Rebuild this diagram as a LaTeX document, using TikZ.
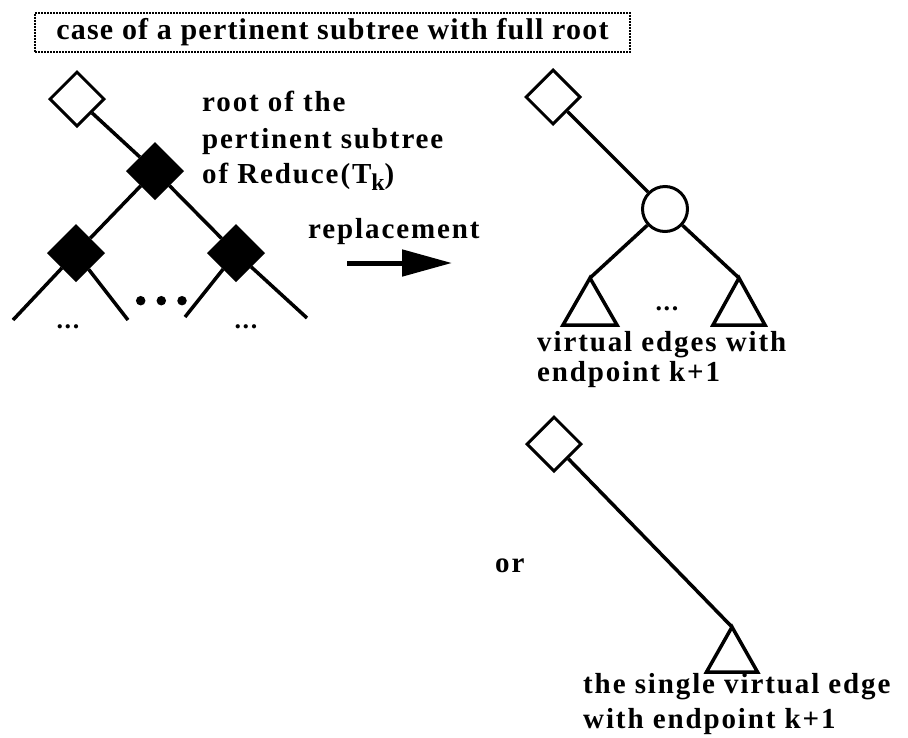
\documentclass[tikz,border=0pt]{standalone}
\usepackage{fontspec}
\setmainfont{Liberation Serif}
\newfontfamily\lblfont{Liberation Serif}[LetterSpace=6.5]
\newfontfamily\ttlfont{Liberation Serif}[LetterSpace=4]
\usetikzlibrary{shapes.geometric,arrows.meta}
\begin{document}
\begin{tikzpicture}[x=1pt,y=-1pt,
  lab/.style={font=\lblfont\bfseries\fontsize{29}{32}\selectfont, inner sep=0pt, anchor=base west},
  dotlab/.style={font=\lblfont\bfseries\fontsize{26}{30}\selectfont, inner sep=0pt, anchor=base},
  opendia/.style={diamond, aspect=1, draw=black, fill=white, line width=3pt, minimum width=55pt, minimum height=55pt, inner sep=0pt},
  fulldia/.style={diamond, aspect=1, draw=black, fill=black, line width=3pt, minimum width=55pt, minimum height=55pt, inner sep=0pt},
  pnode/.style={circle, draw=black, fill=white, line width=3pt, minimum size=45pt, inner sep=0pt},
  treeedge/.style={line width=3.5pt, black},
  leaf/.style={line width=3.5pt, black, line join=miter},
  bigdot/.style={circle, fill=black, minimum size=9.5pt, inner sep=0pt}]
\useasboundingbox (0,0) rectangle (908,737);
\fill[white] (0,0) rectangle (908,737);

% title
\node[draw=black, densely dotted, line width=2pt, minimum width=595pt, minimum height=39pt, inner sep=0pt,
      font=\ttlfont\bfseries\fontsize{30}{32}\selectfont] (title) at (332.5,32.2)
      {case of a pertinent subtree with full root};

% left tree
\node[opendia] (L0) at (77,99) {};
\node[fulldia] (LA) at (155,171) {};
\node[fulldia] (LB) at (76,253) {};
\node[fulldia] (LC) at (236,253) {};
\coordinate (LB1) at (13,320);
\coordinate (LB2) at (128,320);
\coordinate (LC1) at (185,317);
\coordinate (LC2) at (307,318);
\draw[treeedge] (L0) -- (LA);
\draw[treeedge] (LA) -- (LB);
\draw[treeedge] (LA) -- (LC);
\draw[treeedge] (LB) -- (LB1);
\draw[treeedge] (LB) -- (LB2);
\draw[treeedge] (LC) -- (LC1);
\draw[treeedge] (LC) -- (LC2);
\node[bigdot] (dot1) at (140.7,300.7) {};
\node[bigdot] (dot2) at (161.3,300.7) {};
\node[bigdot] (dot3) at (182,300.7) {};
\node[dotlab] (ldots1) at (68,328) {...};
\node[dotlab] (ldots2) at (246,328) {...};

\node[lab] (r1) at (202,111) {root of the};
\node[lab] (r2) at (202,148) {pertinent subtree};
\node[lab] (r3) at (202,183) {of Reduce(T\raisebox{-7pt}{\fontsize{24}{24}\selectfont k})};

% replacement arrow
\node[lab] (repl) at (308,238) {replacement};
\coordinate (as) at (347,263);
\coordinate (ae) at (452,263);
\draw[line width=5pt, -{Triangle[length=50pt, width=26pt]}] (as) -- (ae);

% right tree (upper)
\node[opendia] (R0) at (553,97) {};
\node[pnode] (P) at (665,209) {};
\coordinate (T1) at (590,278);
\coordinate (T2) at (739,278);
\draw[treeedge] (R0) -- (P);
\draw[treeedge] (P) -- (T1);
\draw[treeedge] (P) -- (T2);
\draw[leaf] (T1) -- ++(-27,47) -- ++(54,0) -- cycle;
\draw[leaf] (T2) -- ++(-26,47) -- ++(52,0) -- cycle;
\node[dotlab] (rdots) at (667,310) {...};
\node[lab] (v1) at (537,351) {virtual edges with};
\node[lab] (v2) at (537,381) {endpoint k+1};

% right tree (lower)
\node[lab] (or) at (495,572) {or};
\node[opendia] (S0) at (554,444) {};
\coordinate (T3) at (732,627);
\draw[treeedge] (S0) -- (T3);
\draw[leaf] (T3) -- ++(-25.5,45) -- ++(51,0) -- cycle;
\node[lab] (s1) at (583,693) {the single virtual edge};
\node[lab] (s2) at (583,728) {with endpoint k+1};
\end{tikzpicture}
\end{document}
